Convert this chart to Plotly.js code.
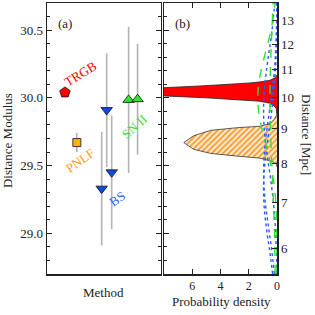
<!DOCTYPE html>
<html>
<head>
<meta charset="utf-8">
<script src="https://cdn.plot.ly/plotly-3.0.1.min.js"></script>
<style>html,body{margin:0;padding:0;background:#fff;}#chart{width:315px;height:315px;}</style>
</head>
<body>
<div id="chart"></div>
<script>
// ---- Panel (a): distance modulus by method ----
var trgbX = [1.58], trgbMu = [30.04], trgbErr = [0.02];
var pnlfX = [2.63], pnlfMu = [29.67], pnlfErr = [0.07];
var bsX = [4.82, 5.26, 5.70], bsMu = [29.33, 29.91, 29.45], bsErr = [0.42, 0.42, 0.42];
var snX = [7.19, 7.98], snMu = [29.985, 29.99], snErr = [0.54, 0.41];

// ---- Panel (b): probability densities ----
var redMu  = [29.88, 29.90, 29.92, 29.94, 29.96, 29.975, 29.985, 30.00, 30.015, 30.03, 30.045, 30.06, 30.074, 30.088, 30.10, 30.11, 30.12, 30.13, 30.15, 30.17];
var redPdf = [0.0, 0.02, 0.05, 0.2, 0.5, 1.2, 2.6, 5.0, 8.2, 9.8, 10.2, 9.8, 8.2, 5.4, 3.2, 1.9, 1.0, 0.5, 0.1, 0.0];

var orgMu  = [29.49, 29.51, 29.53, 29.555, 29.57, 29.59, 29.62, 29.67, 29.72, 29.76, 29.78, 29.79, 29.81, 29.84, 29.875, 29.90];
var orgPdf = [0.0, 0.05, 0.3, 1.2, 2.8, 4.7, 5.9, 6.6, 5.9, 4.7, 2.8, 1.2, 0.5, 0.2, 0.02, 0.0];

var gridMu = [28.7, 28.8, 28.9, 29.0, 29.1, 29.2, 29.3, 29.4, 29.5, 29.6, 29.7, 29.8, 29.9, 30.0, 30.1, 30.2, 30.3, 30.4, 30.5, 30.6, 30.7];
var bs1Pdf = [0.31, 0.43, 0.56, 0.70, 0.82, 0.91, 0.95, 0.94, 0.87, 0.77, 0.64, 0.51, 0.38, 0.27, 0.18, 0.11, 0.066, 0.037, 0.02, 0.01, 0.005];
var bs2Pdf = [0.19, 0.29, 0.40, 0.54, 0.67, 0.80, 0.89, 0.94, 0.94, 0.89, 0.80, 0.67, 0.54, 0.40, 0.29, 0.19, 0.12, 0.074, 0.042, 0.022, 0.011];
var bs3Pdf = [0.015, 0.029, 0.053, 0.091, 0.15, 0.23, 0.33, 0.45, 0.59, 0.72, 0.84, 0.92, 0.95, 0.93, 0.86, 0.75, 0.62, 0.48, 0.35, 0.25, 0.16];
var sn1Pdf = [0.001, 0.002, 0.005, 0.014, 0.033, 0.072, 0.14, 0.26, 0.43, 0.65, 0.90, 1.13, 1.30, 1.36, 1.30, 1.13, 0.90, 0.65, 0.43, 0.26, 0.14];
var sn2Pdf = [0.12, 0.14, 0.16, 0.18, 0.21, 0.24, 0.28, 0.32, 0.36, 0.40, 0.44, 0.47, 0.49, 0.50, 0.49, 0.47, 0.44, 0.40, 0.36, 0.32, 0.28];

var distTicks = [6, 7, 8, 9, 10, 11, 12, 13];
var pdfTicks = [0, 2, 4, 6];

var FONT = 'Liberation Serif, Times New Roman, serif';
var INK = '#222222';
var GRAY = '#b3b3b3';

function pointTrace(x, y, err, sym, size, color) {
  return {
    type: 'scatter', mode: 'markers', x: x, y: y, xaxis: 'x', yaxis: 'y',
    error_y: {type: 'data', array: err, visible: true, color: GRAY, thickness: 1.6, width: 0},
    marker: {symbol: sym, size: size, color: color, line: {color: '#111', width: 0.8}},
    showlegend: false, hoverinfo: 'skip'
  };
}

var traces = [
  pointTrace(bsX, bsMu, bsErr, 'triangle-down', 10, '#0a4be0'),
  pointTrace(snX, snMu, snErr, 'triangle-up', 10, '#2ee62e'),
  pointTrace(pnlfX, pnlfMu, pnlfErr, 'square', 8, '#f7b50c'),
  pointTrace(trgbX, trgbMu, trgbErr, 'pentagon', 11, '#ff0000'),
  {type: 'scatter', mode: 'lines', x: redPdf, y: redMu, xaxis: 'x2', yaxis: 'y2',
   fill: 'tozerox', fillcolor: '#ff0000', line: {color: '#222', width: 0.8},
   showlegend: false, hoverinfo: 'skip'},
  {type: 'scatter', mode: 'lines', x: orgPdf, y: orgMu, xaxis: 'x2', yaxis: 'y2',
   fill: 'tozerox', fillcolor: 'rgba(0,0,0,0)',
   fillpattern: {shape: '/', fgcolor: '#f5a030', bgcolor: '#ffeedd', size: 4, solidity: 0.5},
   line: {color: '#333', width: 0.8}, showlegend: false, hoverinfo: 'skip'}
];
[bs1Pdf, bs2Pdf, bs3Pdf].forEach(function (p) {
  traces.push({type: 'scatter', mode: 'lines', x: p, y: gridMu, xaxis: 'x2', yaxis: 'y2',
    line: {color: '#2b5cff', width: 1.4, dash: 'dot', shape: 'spline'}, showlegend: false, hoverinfo: 'skip'});
});
[sn1Pdf, sn2Pdf].forEach(function (p) {
  traces.push({type: 'scatter', mode: 'lines', x: p, y: gridMu, xaxis: 'x2', yaxis: 'y2',
    line: {color: '#33dd33', width: 1.4, dash: 'dash', shape: 'spline'}, showlegend: false, hoverinfo: 'skip'});
});
// invisible carrier so the Mpc axis is drawn
traces.push({type: 'scatter', mode: 'markers', x: [1], y: [30], xaxis: 'x2', yaxis: 'y3',
  marker: {opacity: 0, size: 1}, showlegend: false, hoverinfo: 'skip'});

var muRange = [28.7, 30.7];
var axisBase = {showline: true, linecolor: INK, linewidth: 1.5, showgrid: false, zeroline: false,
  tickcolor: INK, tickfont: {family: FONT, size: 13, color: INK}};

function ann(text, x, y, xref, yref, color, angle) {
  return {text: text, x: x, y: y, xref: xref, yref: yref, showarrow: false,
    font: {family: FONT, size: 13, color: color}, textangle: angle || 0,
    xanchor: 'center', yanchor: 'middle'};
}

var layout = {
  width: 315, height: 315,
  margin: {l: 47, r: 38, t: 3, b: 41},
  paper_bgcolor: '#fff', plot_bgcolor: '#fff',
  showlegend: false,
  xaxis: Object.assign({}, axisBase, {domain: [0, 0.4935], range: [0, 10], anchor: 'y',
    showticklabels: false, ticks: '', mirror: true}),
  yaxis: Object.assign({}, axisBase, {domain: [0, 1], range: muRange, anchor: 'x',
    ticks: 'inside', ticklen: 5, dtick: 0.5, tick0: 29, tickformat: '.1f', mirror: 'ticks',
    minor: {ticks: 'inside', ticklen: 3, dtick: 0.1, tickcolor: INK}}),
  xaxis2: Object.assign({}, axisBase, {domain: [0.5087, 1], range: [8, 0], anchor: 'y2',
    tickvals: pdfTicks, ticks: 'inside', ticklen: 5, mirror: 'ticks', ticklabelstandoff: 0,
    tickfont: {family: FONT, size: 12, color: INK}}),
  yaxis2: Object.assign({}, axisBase, {domain: [0, 1], range: muRange, anchor: 'x2', side: 'left',
    showticklabels: false, ticks: 'inside', ticklen: 5, dtick: 0.5, tick0: 29,
    minor: {ticks: 'inside', ticklen: 3, dtick: 0.1, tickcolor: INK}}),
  yaxis3: Object.assign({}, axisBase, {range: muRange, anchor: 'x2', overlaying: 'y2', side: 'right',
    autorange: false,
    tickmode: 'array',
    tickvals: distTicks.map(function (d) { return 5 * Math.log10(d) + 25; }),
    ticktext: distTicks.map(String), ticks: 'inside', ticklen: 5, showticklabels: true}),
  annotations: [
    ann('(a)', 1.6, 30.55, 'x', 'y', INK),
    ann('(b)', (182 - 47) / 230, (274 - 23) / 271, 'paper', 'paper', INK),
    ann('TRGB', 2.98, 30.18, 'x', 'y', '#ff0000', -32),
    ann('PNLF', 2.9, 29.54, 'x', 'y', '#ff9a1a', -35),
    ann('BS', 6.2, 29.26, 'x', 'y', '#2f64ff', -35),
    ann('SN II', 7.7, 29.79, 'x', 'y', '#33dd33', -42),
    ann('Distance Modulus', -0.174, 0.494, 'paper', 'paper', INK, -90),
    ann('Method', 0.2435, -0.070, 'paper', 'paper', INK),
    ann('Probability density', 0.757, -0.103, 'paper', 'paper', INK),
    ann('Distance [Mpc]', 1.126, 0.513, 'paper', 'paper', INK, 90)
  ]
};

Plotly.newPlot('chart', traces, layout, {staticPlot: true, displayModeBar: false});
</script>
</body>
</html>
